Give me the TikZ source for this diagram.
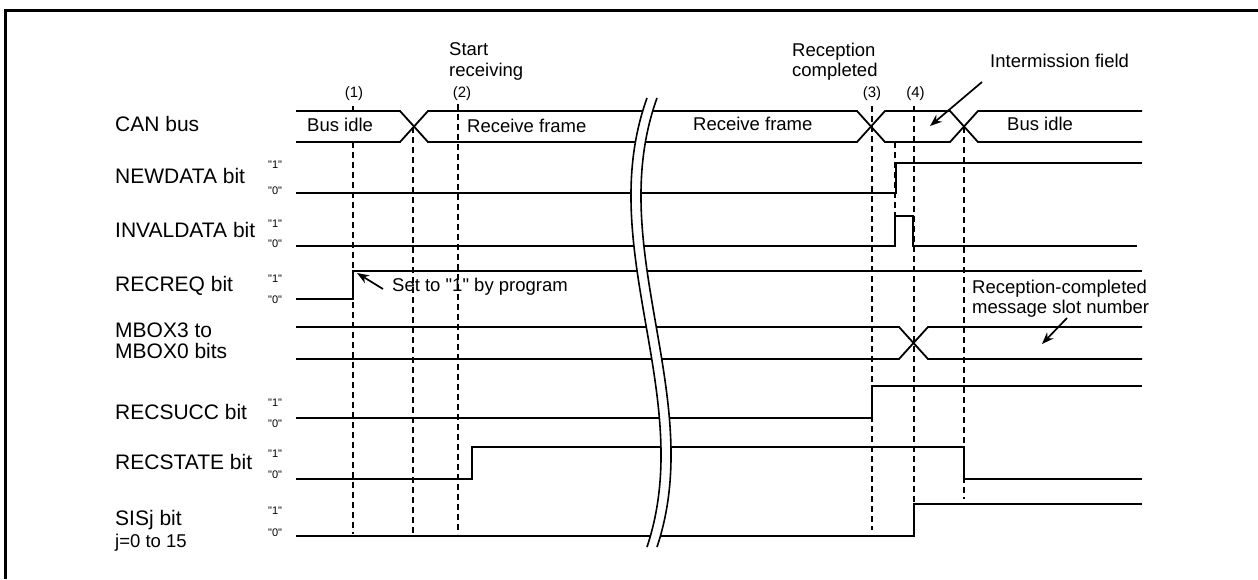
\documentclass[tikz,border=0pt]{standalone}
\usepackage{fontspec}
\setmainfont{Liberation Sans}[Ligatures=TeXOff]
\usetikzlibrary{arrows.meta}
\begin{document}
\begin{tikzpicture}[x=1pt,y=-1pt,
  frame/.style={line width=2.5pt},
  sig/.style={line width=1.8pt, line join=miter},
  dsh/.style={line width=1.7pt, dash pattern=on 6pt off 4pt},
  brk/.style={line width=1.6pt},
  arr/.style={line width=1.7pt, -{Stealth[length=12pt,width=9pt]}},
  big/.style={font=\fontsize{21}{21}\selectfont, inner sep=0pt},
  small/.style={font=\fontsize{18.5}{20.5}\selectfont, inner sep=0pt},
  paren/.style={font=\fontsize{15}{15}\selectfont, inner sep=0pt},
  lvl/.style={font=\fontsize{11}{11}\selectfont, inner sep=0pt, anchor=base west}]
\useasboundingbox (0,0) rectangle (1258,579);
\draw[frame] (5.3,579) -- (5.3,10.5) -- (1258,10.5);

% ---- dashed guide lines
\draw[dsh] (353,106) -- (353,111);
\draw[dsh] (353,142) -- (353,534);
\draw[dsh] (413,127) -- (413,535);
\draw[dsh] (458,104) -- (458,534);
\draw[dsh] (872,106) -- (872,530);
\draw[dsh] (895,142) -- (895,216);
\draw[dsh] (914,106) -- (914,504);
\draw[dsh] (964,127) -- (964,499);

% ---- signals
% CAN bus
\draw[sig] (296,111) -- (400,111) -- (428,142) -- (857,142) -- (885,111) -- (950,111) -- (978,142) -- (1142,142);
\draw[sig] (296,142) -- (400,142) -- (428,111) -- (857,111) -- (885,142) -- (950,142) -- (978,111) -- (1142,111);
% NEWDATA
\draw[sig] (296,193) -- (896,193) -- (896,163) -- (1142,163);
% INVALDATA
\draw[sig] (296,246) -- (895,246) -- (895,216) -- (913,216) -- (913,246) -- (1137,246);
% RECREQ
\draw[sig] (296,299) -- (353,299) -- (353,271) -- (1142,271);
% MBOX
\draw[sig] (296,327) -- (899,327) -- (928,359) -- (1142,359);
\draw[sig] (296,359) -- (899,359) -- (928,327) -- (1142,327);
% RECSUCC
\draw[sig] (296,418) -- (872,418) -- (872,386) -- (1142,386);
% RECSTATE
\draw[sig] (296,479) -- (472,479) -- (472,447) -- (964,447) -- (964,479) -- (1142,479);
% SISj
\draw[sig] (296,536) -- (914,536) -- (914,504) -- (1142,504);

% ---- break mark
\fill[white] (647,98) .. controls (593,248) and (697,397) .. (647,547) -- (657,547) .. controls (707,397) and (603,248) .. (657,98) -- cycle;
\draw[brk] (647,98) .. controls (593,248) and (697,397) .. (647,547);
\draw[brk] (657,98) .. controls (603,248) and (707,397) .. (657,547);

% ---- left labels
\node[big, anchor=base west] (lcan) at (115,131) {CAN bus};
\node[big, anchor=base west] (lnew) at (115,183) {NEWDATA bit};
\node[big, anchor=base west] (linv) at (115,237) {INVALDATA bit};
\node[big, anchor=base west] (lreq) at (115,291) {RECREQ bit};
\node[big, anchor=north west, align=left] (lmbox) at (115,323) {MBOX3 to\\MBOX0 bits};
\node[big, anchor=base west] (lsucc) at (115,419) {RECSUCC bit};
\node[big, anchor=base west] (lstate) at (115,469) {RECSTATE bit};
\node[big, anchor=base west] (lsis) at (115,525) {SISj bit};
\node[small, anchor=base west] (lsisj) at (115,547) {j=0 to 15};

% ---- level labels
\node[lvl] (n1) at (268,168) {"1"};
\node[lvl] (n0) at (268,194) {"0"};
\node[lvl] (i1) at (268,227) {"1"};
\node[lvl] (i0) at (268,247) {"0"};
\node[lvl] (r1) at (268,282) {"1"};
\node[lvl] (r0) at (268,303) {"0"};
\node[lvl] (s1) at (268,406) {"1"};
\node[lvl] (s0) at (268,427) {"0"};
\node[lvl] (t1) at (268,457) {"1"};
\node[lvl] (t0) at (268,478) {"0"};
\node[lvl] (j1) at (268,514) {"1"};
\node[lvl] (j0) at (268,536) {"0"};

% ---- point labels
\node[paren, anchor=base] (p1) at (354,97) {(1)};
\node[paren, anchor=base] (p2) at (462,97) {(2)};
\node[paren, anchor=base] (p3) at (872,97) {(3)};
\node[paren, anchor=base] (p4) at (915.5,97) {(4)};

\node[small, anchor=north west, align=left] (start) at (449,42.7) {Start\\receiving};
\node[small, anchor=north west, align=left] (recc) at (792,42.7) {Reception\\completed};

% ---- bus labels
\node[small, anchor=base west] (idle1) at (307,131) {Bus idle};
\node[small, anchor=base west] (rf1) at (467,132) {Receive frame};
\node[small, anchor=base west] (rf2) at (693,130) {Receive frame};
\node[small, anchor=base west] (idle2) at (1007,130) {Bus idle};

% ---- annotations
\node[small, anchor=base west] (inter) at (990,67) {Intermission field};
\coordinate (interT) at (982,82);
\coordinate (interH) at (930,126);
\draw[arr] (interT) -- (interH);

\node[small, anchor=base west] (setp) at (392,291) {Set to "1" by program};
\coordinate (setT) at (383,289);
\coordinate (setH) at (357,273);
\draw[arr] (setT) -- (setH);

\node[small, anchor=north west, align=left] (slot) at (972,279.5) {Reception-completed\\message slot number};
\coordinate (slotT) at (1067,318);
\coordinate (slotH) at (1042,344);
\draw[arr] (slotT) -- (slotH);
\end{tikzpicture}
\end{document}
